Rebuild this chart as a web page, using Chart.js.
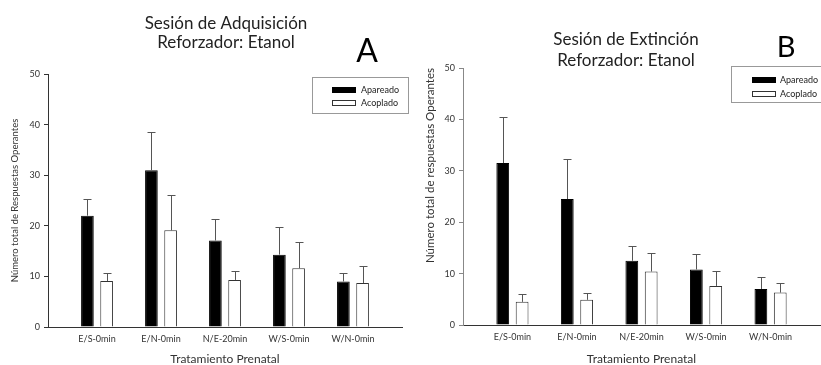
<!DOCTYPE html>
<html>
<head>
<meta charset="utf-8">
<script src="https://cdn.jsdelivr.net/npm/chart.js@4.4.1/dist/chart.umd.min.js"></script>
<style>
  body { margin: 0; background: #fff; }
  .panel { position: absolute; top: 0; height: 365px; }
  #panelA { left: 0; width: 410px; }
  #panelB { left: 410px; width: 411px; }
</style>
</head>
<body>
<div class="panel" id="panelA"><canvas id="chartA" width="410" height="365"></canvas></div>
<div class="panel" id="panelB"><canvas id="chartB" width="411" height="365"></canvas></div>
<script>
// Data
const categories = ['E/S-0min', 'E/N-0min', 'N/E-20min', 'W/S-0min', 'W/N-0min'];
const seriesNames = ['Apareado', 'Acoplado'];

// Panel A - adquisición
const adqApareado = [22.0, 31.0, 17.1, 14.3, 9.0];
const adqApareadoErr = [3.3, 7.6, 4.2, 5.5, 1.7];
const adqAcoplado = [9.1, 19.1, 9.3, 11.6, 8.7];
const adqAcopladoErr = [1.5, 7.0, 1.7, 5.1, 3.3];

// Panel B - extinción
const extApareado = [31.5, 24.5, 12.5, 10.8, 7.0];
const extApareadoErr = [8.9, 7.8, 2.9, 3.1, 2.3];
const extAcoplado = [4.5, 4.9, 10.4, 7.6, 6.3];
const extAcopladoErr = [1.6, 1.3, 3.7, 2.9, 1.8];

const yTicks = { min: 0, max: 50, step: 10 };

const FONT = 'Lato, "Open Sans", sans-serif';

// Draw the upward-only error bars with caps
const errorBarPlugin = {
    id: 'errorBars',
    afterDatasetsDraw(chart) {
        const ctx = chart.ctx;
        const yScale = chart.scales.y;
        ctx.save();
        ctx.strokeStyle = '#555';
        ctx.lineWidth = 1;
        chart.data.datasets.forEach((ds, i) => {
            const meta = chart.getDatasetMeta(i);
            meta.data.forEach((bar, j) => {
                const top = Math.round(yScale.getPixelForValue(ds.data[j].y + ds.errors[j])) + 0.5;
                const x = Math.round(bar.x) + 0.5;
                ctx.beginPath();
                ctx.moveTo(x, bar.y);
                ctx.lineTo(x, top);
                ctx.moveTo(x - 4, top);
                ctx.lineTo(x + 4, top);
                ctx.stroke();
            });
        });
        ctx.restore();
    }
};

// Title lines, panel letter and the boxed legend
const decorPlugin = {
    id: 'decor',
    afterDraw(chart, args, opts) {
        const ctx = chart.ctx;
        ctx.save();
        ctx.textAlign = 'center';
        ctx.textBaseline = 'middle';
        ctx.fillStyle = '#222';
        ctx.font = `${opts.titleSize}px ${FONT}`;
        opts.title.forEach((line, i) => ctx.fillText(line, opts.titleX, opts.titleY[i]));

        ctx.fillStyle = '#000';
        ctx.font = `${opts.letterSize}px ${FONT}`;
        ctx.fillText(opts.letter, opts.letterPos[0], opts.letterPos[1]);

        const lg = opts.legend;
        ctx.strokeStyle = '#999';
        ctx.lineWidth = 1;
        ctx.strokeRect(lg.x + 0.5, lg.y + 0.5, lg.w, lg.h);
        ctx.textAlign = 'left';
        ctx.font = `9px ${FONT}`;
        chart.data.datasets.forEach((ds, i) => {
            const sy = lg.swatchY[i];
            ctx.fillStyle = ds.backgroundColor;
            ctx.fillRect(lg.swatchX, sy, 24, 6);
            ctx.strokeStyle = ds.borderColor;
            ctx.strokeRect(lg.swatchX + 0.5, sy + 0.5, 23, 5);
            ctx.fillStyle = '#222';
            ctx.fillText(ds.label, lg.textX, sy + 3);
        });
        ctx.restore();
    }
};

function makeDatasets(apareado, apErr, acoplado, acErr) {
    const common = { categoryPercentage: 0.6, barPercentage: 0.66, borderWidth: 1 };
    return [
        Object.assign({
            label: seriesNames[0],
            data: apareado.map((v, i) => ({ x: i, y: v })),
            errors: apErr,
            backgroundColor: '#000',
            borderColor: '#000'
        }, common),
        Object.assign({
            label: seriesNames[1],
            data: acoplado.map((v, i) => ({ x: i, y: v })),
            errors: acErr,
            backgroundColor: '#fff',
            borderColor: '#333'
        }, common)
    ];
}

function createPanel(canvasId, datasets, cfg) {
    const ctx = document.getElementById(canvasId).getContext('2d');
    return new Chart(ctx, {
        type: 'bar',
        data: { datasets: datasets },
        options: {
            responsive: false,
            animation: false,
            layout: { padding: { top: cfg.top, right: cfg.right, left: 0, bottom: 0 } },
            plugins: {
                legend: { display: false },
                tooltip: { enabled: false },
                decor: cfg.decor
            },
            scales: {
                x: {
                    type: 'linear',
                    offset: false,
                    min: -0.766,
                    max: 4.766,
                    afterBuildTicks: s => { s.ticks = categories.map((c, i) => ({ value: i })); },
                    afterFit: s => { s.height = cfg.xAxisHeight; },
                    ticks: {
                        callback: v => categories[v],
                        autoSkip: false,
                        maxRotation: 0,
                        padding: 7,
                        color: '#333',
                        font: { family: FONT, size: 9 }
                    },
                    grid: { display: false, drawTicks: false, offset: false },
                    border: { display: true, color: '#333' },
                    title: {
                        display: true,
                        text: 'Tratamiento Prenatal',
                        color: '#333',
                        font: { family: FONT, size: 12 },
                        padding: { top: 0, bottom: -1 }
                    }
                },
                y: {
                    min: yTicks.min,
                    max: yTicks.max,
                    afterFit: s => { s.width = cfg.yAxisWidth; },
                    ticks: {
                        stepSize: yTicks.step,
                        padding: 4,
                        color: '#333',
                        font: { family: FONT, size: 9 }
                    },
                    grid: { display: true, drawOnChartArea: false, drawTicks: true, tickLength: 4, color: cfg.yColor },
                    border: { display: true, color: cfg.yColor },
                    title: {
                        display: true,
                        text: cfg.yTitle,
                        align: cfg.yTitleAlign,
                        color: '#333',
                        font: { family: FONT, size: cfg.yTitleSize },
                        padding: { top: cfg.yTitlePad, bottom: 0 }
                    }
                }
            }
        },
        plugins: [errorBarPlugin, decorPlugin]
    });
}

function initializeCharts() {
    createPanel('chartA', makeDatasets(adqApareado, adqApareadoErr, adqAcoplado, adqAcopladoErr), {
        top: 74, right: 8, xAxisHeight: 38, yAxisWidth: 48, yColor: '#333',
        yTitle: 'Número total de Respuestas Operantes', yTitleAlign: 'center', yTitleSize: 9.5, yTitlePad: 9,
        decor: {
            title: ['Sesión de Adquisición', 'Reforzador: Etanol'],
            titleX: 226, titleY: [24, 43], titleSize: 17,
            letter: 'A', letterPos: [367, 52], letterSize: 32,
            legend: { x: 312, y: 77, w: 96, h: 36, swatchX: 332, swatchY: [87, 100], textX: 361 }
        }
    });
    createPanel('chartB', makeDatasets(extApareado, extApareadoErr, extAcoplado, extAcopladoErr), {
        top: 68, right: 1, xAxisHeight: 40, yAxisWidth: 53, yColor: '#888',
        yTitle: 'Número total de respuestas Operantes', yTitleAlign: 'end', yTitleSize: 11.5, yTitlePad: 13,
        decor: {
            title: ['Sesión de Extinción', 'Reforzador: Etanol'],
            titleX: 216, titleY: [40, 61], titleSize: 17,
            letter: 'B', letterPos: [376, 48], letterSize: 29,
            legend: { x: 321, y: 66, w: 92, h: 36, swatchX: 342, swatchY: [77, 91], textX: 370 }
        }
    });
}

window.onload = initializeCharts;
</script>
</body>
</html>
